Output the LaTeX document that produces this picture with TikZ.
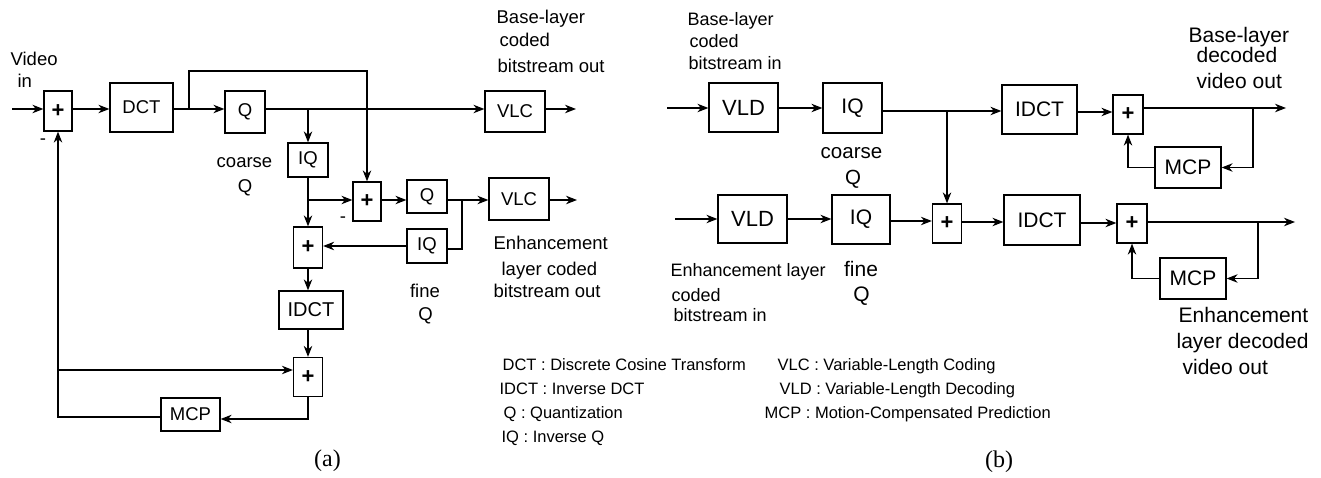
\documentclass[tikz,border=0pt]{standalone}
\usepackage{fontspec}
\setmainfont{Liberation Sans}
\newfontfamily\capfont{Liberation Serif}
\usetikzlibrary{arrows.meta}
\newcommand\myfs[1]{\fontsize{#1}{#1}\selectfont}
\begin{document}
\begin{tikzpicture}[x=1pt,y=-1pt,line width=1.25pt,
  bx/.style 2 args={draw, inner sep=0pt, minimum width=#1pt, minimum height=#2pt},
  ta/.style={font=\myfs{18.5}},
  tb/.style={font=\myfs{21}},
  pls/.style={font=\myfs{22}\bfseries},
  arr/.style={-{Stealth[length=11pt,width=8.5pt,inset=3.5pt]}},
  lw/.style={inner sep=0pt, anchor=base west},
  lc/.style={inner sep=0pt, anchor=base},
  lga/.style={lw, font=\myfs{18.5}},
  lgb/.style={lw, font=\myfs{18}},
  lgr/.style={lw, font=\myfs{21}},
  leg/.style={lw, font=\myfs{16.5}},
  subcap/.style={lc, font=\capfont\myfs{24}}]
\useasboundingbox (0,0) rectangle (1321,478);

% ---------------- (a) encoder ----------------
\node[bx={28}{40}, pls] (pA1) at (58,111) {+};
\node[bx={63}{49}, ta] (dct) at (141.5,107.5) {DCT};
\node[bx={40}{42}, ta] (qA1) at (245,112) {Q};
\node[bx={60}{41}, ta] (vlcA1) at (515,111.5) {VLC};
\node[bx={40}{34}, ta] (iqA1) at (308,160) {IQ};
\node[bx={28}{39}, pls] (pA2) at (367,201.5) {+};
\node[bx={40}{33}, ta] (qA2) at (427,196.5) {Q};
\node[bx={60}{42}, ta] (vlcA2) at (519,199) {VLC};
\node[bx={40}{34}, ta] (iqA2) at (427,246) {IQ};
\node[bx={29}{41}, pls] (pA3) at (308,247.5) {+};
\node[bx={64}{38}, font=\myfs{20}] (idctA) at (311,310) {IDCT};
\node[bx={29}{39}, pls] (pA4) at (308,377) {+};
\node[bx={59}{33}, ta] (mcpA) at (190.5,414.5) {MCP};

\node[ta, inner sep=0pt] (mA1) at (43,142) {-};
\node[ta, inner sep=0pt] (mA2) at (343,220) {-};

\coordinate (inA) at (12,109);
\coordinate (rowA) at (0,109);
\coordinate (brA) at (189,109);
\coordinate (topA) at (189,71);
\coordinate (brQ) at (308,109);
\coordinate (outA1) at (576,109);
\coordinate (brIQ) at (308,200);
\coordinate (brQ2) at (462,200);
\coordinate (retQ2) at (462,249);
\coordinate (outA2) at (577,200);
\coordinate (fbA) at (58,417);
\coordinate (addA) at (58,370);
\coordinate (mcpIn) at (308,419);

\draw[arr] (inA) -- (pA1.west |- inA);
\draw[arr] (pA1.east |- rowA) -- (dct.west |- rowA);
\draw[arr] (dct.east |- rowA) -- (qA1.west |- rowA);
\draw[arr] (brA) -- (topA) -| (pA2.north);
\draw[arr] (qA1.east |- rowA) -- (vlcA1.west |- rowA);
\draw[arr] (brQ) -- (iqA1.north);
\draw[arr] (vlcA1.east |- rowA) -- (outA1);
\draw[arr] (iqA1.south) -- (pA3.north);
\draw[arr] (brIQ) -- (pA2.west |- brIQ);
\draw[arr] (pA2.east |- brIQ) -- (qA2.west |- brIQ);
\draw[arr] (qA2.east |- brIQ) -- (vlcA2.west |- brIQ);
\draw[arr] (vlcA2.east |- brIQ) -- (outA2);
\draw (brQ2) -- (retQ2) -- (iqA2.east |- retQ2);
\draw[arr] (iqA2.west) -- (pA3.east |- iqA2.west);
\draw[arr] (pA3.south) -- (pA3.south |- idctA.north);
\draw[arr] (pA4.north |- idctA.south) -- (pA4.north);
\draw[arr] (addA) -- (pA4.west |- addA);
\draw[arr] (pA4.south) |- (mcpA.east |- mcpIn);
\draw[arr] (mcpA.west |- fbA) -- (fbA) -- (pA1.south);

\node[lga] (vid1) at (10,65.7) {Video};
\node[lga] (vid2) at (17,88) {in};
\node[lga] (bA1) at (496,24) {Base-layer};
\node[lga] (bA2) at (499,46.7) {coded};
\node[lga] (bA3) at (497,72.7) {bitstream out};
\node[lc, font=\myfs{18.5}] (coA1) at (244.5,168) {coarse};
\node[lc, font=\myfs{18.5}] (coA2) at (245,193) {Q};
\node[lga] (eA1) at (493,250) {Enhancement};
\node[lga] (eA2) at (501,275) {layer coded};
\node[lga] (eA3) at (493,297) {bitstream out};
\node[lc, font=\myfs{18.5}] (fiA1) at (425,297) {fine};
\node[lc, font=\myfs{18.5}] (fiA2) at (425.5,320) {Q};

% legend
\node[leg] (lg1) at (502,370) {DCT : Discrete Cosine Transform};
\node[leg] (lg2) at (499,394) {IDCT : Inverse DCT};
\node[leg] (lg3) at (503,418) {Q : Quantization};
\node[leg] (lg4) at (501,442) {IQ : Inverse Q};
\node[leg] (lg5) at (777,370) {VLC : Variable-Length Coding};
\node[leg] (lg6) at (779,394) {VLD : Variable-Length Decoding};
\node[leg] (lg7) at (764,418) {MCP : Motion-Compensated Prediction};

\node[subcap] (capa) at (327.5,466) {(a)};
\node[subcap] (capb) at (999,467) {(b)};

% ---------------- (b) decoder ----------------
\node[bx={69}{49}, font=\myfs{22}] (vld1) at (743.5,107.5) {VLD};
\node[bx={59}{50}, tb] (iq1) at (852.5,108) {IQ};
\node[bx={75}{49}, tb] (idct1) at (1039.5,109.5) {IDCT};
\node[bx={30}{39}, pls] (p6) at (1128,114.5) {+};
\node[bx={66}{41}, tb] (mcp1) at (1188,167.5) {MCP};
\node[bx={69}{48}, font=\myfs{22}] (vld2) at (752.5,219) {VLD};
\node[bx={58}{49}, tb] (iq2) at (861,219.5) {IQ};
\node[bx={29}{39}, pls] (p5) at (947,223.5) {+};
\node[bx={76}{50}, tb] (idct2) at (1042,220) {IDCT};
\node[bx={30}{39}, pls] (p7) at (1132,223.5) {+};
\node[bx={66}{41}, tb] (mcp2) at (1193,278.5) {MCP};

\coordinate (inB1) at (667,108);
\coordinate (rowB1) at (0,111);
\coordinate (brB) at (947,111);
\coordinate (inB2) at (675,219);
\coordinate (rowB2) at (0,221);
\coordinate (rowB3) at (0,222);
\coordinate (rowB4) at (0,112);
\coordinate (rowB5) at (0,223);
\coordinate (outB1) at (1286,108);
\coordinate (brB1) at (1253,108);
\coordinate (outB2) at (1295,222);
\coordinate (brB2) at (1258,222);

\draw[arr] (inB1) -- (vld1.west |- inB1);
\draw[arr] (vld1.east |- inB1) -- (iq1.west |- inB1);
\draw[arr] (iq1.east |- rowB1) -- (idct1.west |- rowB1);
\draw[arr] (brB) -- (p5.north);
\draw[arr] (inB2) -- (vld2.west |- inB2);
\draw[arr] (vld2.east |- inB2) -- (iq2.west |- inB2);
\draw[arr] (iq2.east |- rowB2) -- (p5.west |- rowB2);
\draw[arr] (p5.east |- rowB3) -- (idct2.west |- rowB3);
\draw[arr] (idct1.east |- rowB4) -- (p6.west |- rowB4);
\draw[arr] (idct2.east |- rowB5) -- (p7.west |- rowB5);
\draw[arr] (p6.east |- outB1) -- (outB1);
\draw[arr] (brB1) |- (mcp1.east);
\draw[arr] (mcp1.west) -| (p6.south);
\draw[arr] (p7.east |- outB2) -- (outB2);
\draw[arr] (brB2) |- (mcp2.east);
\draw[arr] (mcp2.west) -| (p7.south);

\node[lgb] (bB1) at (687,26) {Base-layer};
\node[lgb] (bB2) at (689,47.3) {coded};
\node[lgb] (bB3) at (688,70) {bitstream in};
\node[lc, font=\myfs{20.5}] (coB1) at (851.5,158.3) {coarse};
\node[lc, font=\myfs{20.5}] (coB2) at (853,185) {Q};
\node[lgb] (eB1) at (670,276.7) {Enhancement layer};
\node[lgb] (eB2) at (671,301) {coded};
\node[lgb] (eB3) at (673,321.7) {bitstream in};
\node[lc, font=\myfs{21}] (fiB1) at (861,276.7) {fine};
\node[lc, font=\myfs{21}] (fiB2) at (861.5,301.7) {Q};
\node[lgr] (oB1) at (1188,42.7) {Base-layer};
\node[lgr] (oB2) at (1196,62.7) {decoded};
\node[lgr] (oB3) at (1196,88.3) {video out};
\node[lgr] (oE1) at (1178,322.3) {Enhancement};
\node[lgr] (oE2) at (1176,348.3) {layer decoded};
\node[lgr] (oE3) at (1182,374) {video out};
\end{tikzpicture}
\end{document}
